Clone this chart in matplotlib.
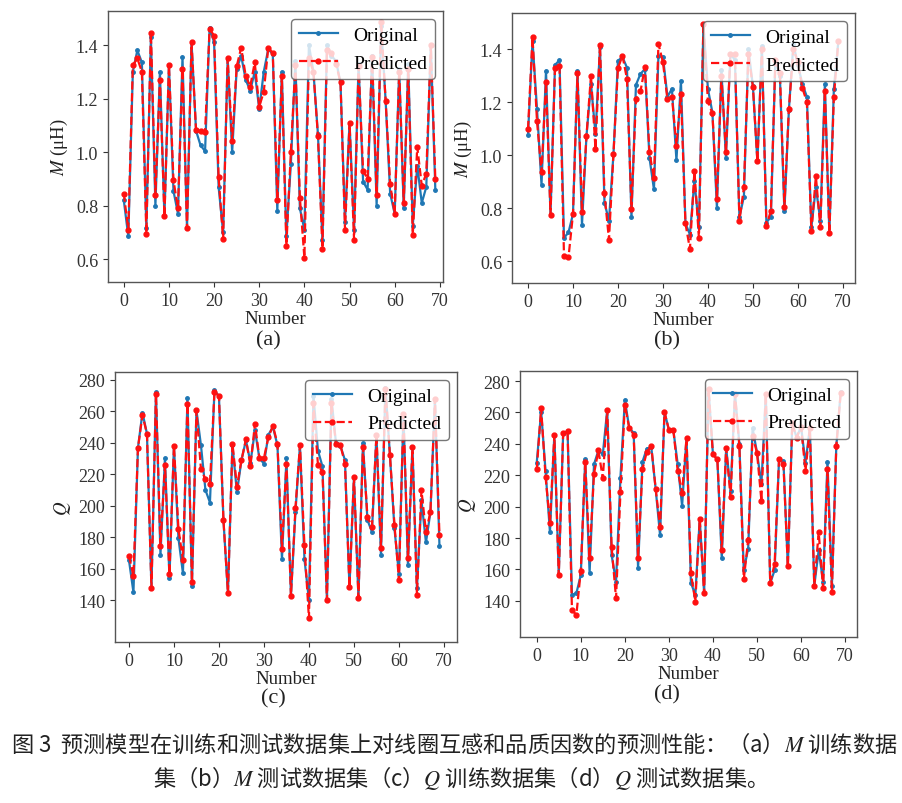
import matplotlib
matplotlib.use("Agg")
import matplotlib.pyplot as plt
import numpy as np

plt.rcParams['font.family'] = ['Liberation Serif', 'DejaVu Serif']
plt.rcParams['mathtext.fontset'] = 'stix'

# ---------------- data ----------------
m_train_orig = [0.82, 0.685, 1.30, 1.38, 1.335, 0.715, 1.43, 0.80, 1.30, 0.76,
                1.325, 0.855, 0.77, 1.356, 0.716, 1.41, 1.08, 1.025, 1.004, 1.465,
                1.41, 0.87, 0.70, 1.35, 1.00, 1.31, 1.36, 1.27, 1.23, 1.30,
                1.16, 1.30, 1.385, 1.365, 0.78, 1.30, 0.685, 0.955, 1.34, 0.79,
                0.71, 1.40, 1.30, 1.067, 0.67, 1.40, 1.36, 1.34, 1.26, 0.74,
                1.11, 0.71, 1.33, 0.89, 0.86, 1.36, 0.80, 1.47, 1.19, 0.845,
                0.77, 1.31, 0.79, 1.33, 0.725, 0.95, 0.81, 0.87, 1.40, 0.86]
m_train_pred = [0.845, 0.71, 1.325, 1.35, 1.30, 0.695, 1.445, 0.84, 1.27, 0.76,
                1.325, 0.895, 0.79, 1.31, 0.716, 1.41, 1.082, 1.08, 1.075, 1.46,
                1.435, 0.907, 0.675, 1.35, 1.04, 1.32, 1.39, 1.285, 1.245, 1.335,
                1.17, 1.225, 1.39, 1.37, 0.82, 1.285, 0.65, 1.00, 1.325, 0.83,
                0.605, 1.35, 1.30, 1.06, 0.637, 1.38, 1.37, 1.33, 1.26, 0.71,
                1.11, 0.672, 1.32, 0.93, 0.90, 1.355, 0.84, 1.485, 1.19, 0.88,
                0.77, 1.30, 0.81, 1.31, 0.69, 1.02, 0.875, 0.92, 1.40, 0.90]

m_test_orig = [1.077, 1.43, 1.174, 0.888, 1.318, 0.775, 1.34, 1.358, 0.687, 0.708,
               0.777, 1.318, 0.737, 1.073, 1.268, 1.08, 1.406, 0.82, 0.752, 1.004,
               1.356, 1.37, 1.33, 0.765, 1.265, 1.306, 1.325, 0.99, 0.87, 1.375,
               1.37, 1.22, 1.25, 0.98, 1.28, 0.742, 0.70, 0.903, 0.727, 1.49,
               1.25, 1.16, 0.80, 1.32, 0.99, 1.38, 1.36, 0.765, 0.843, 1.40,
               1.26, 0.976, 1.41, 0.745, 0.767, 1.36, 1.30, 0.787, 1.17, 1.42,
               1.34, 1.268, 1.22, 0.727, 0.878, 0.752, 1.268, 0.705, 1.25, 1.43]
m_test_pred = [1.098, 1.444, 1.127, 0.935, 1.274, 0.775, 1.328, 1.337, 0.62, 0.614,
               0.777, 1.308, 0.784, 1.073, 1.30, 1.023, 1.416, 0.855, 0.68, 1.004,
               1.328, 1.375, 1.287, 0.796, 1.211, 1.24, 1.333, 1.01, 0.913, 1.42,
               1.35, 1.21, 1.22, 1.035, 1.23, 0.742, 0.645, 0.94, 0.687, 1.494,
               1.203, 1.157, 0.834, 1.30, 1.01, 1.38, 1.38, 0.752, 0.878, 1.38,
               1.258, 0.976, 1.40, 0.733, 0.79, 1.36, 1.31, 0.805, 1.174, 1.40,
               1.35, 1.253, 1.20, 0.712, 0.92, 0.727, 1.243, 0.705, 1.218, 1.43]

q_train_orig = [165.4, 144.9, 236.7, 259.2, 245.8, 147.4, 272.3, 168.6, 230.0, 154.2,
                238.0, 179.2, 157.0, 268.5, 149.1, 260.6, 238.4, 209.9, 202.0, 273.3,
                269.7, 190.8, 144.3, 238.4, 208.4, 228.9, 241.6, 227.4, 247.9, 230.0,
                226.8, 245.2, 250.0, 238.4, 166.0, 230.0, 142.7, 196.0, 238.4, 166.0,
                140.0, 270.0, 235.0, 225.0, 140.0, 268.0, 240.0, 238.0, 229.0, 148.4,
                218.3, 141.5, 240.0, 190.8, 183.4, 245.0, 168.6, 275.0, 232.0, 185.5,
                156.3, 258.0, 162.2, 237.3, 147.4, 203.5, 176.6, 196.0, 268.0, 174.5]
q_train_pred = [168.2, 155.3, 236.7, 257.5, 245.8, 147.4, 271.2, 174.5, 226.1, 156.3,
                238.0, 185.1, 165.4, 264.9, 151.7, 260.6, 223.2, 216.8, 214.0, 272.3,
                269.7, 190.8, 144.3, 239.5, 212.0, 228.9, 242.2, 225.3, 252.2, 230.0,
                230.4, 243.7, 250.7, 239.5, 172.4, 226.8, 142.7, 198.6, 238.4, 174.9,
                128.3, 265.0, 226.0, 221.5, 140.0, 265.0, 239.5, 238.4, 226.8, 148.4,
                218.3, 141.5, 237.3, 192.9, 186.5, 245.0, 173.2, 274.4, 232.0, 188.0,
                152.7, 258.0, 166.5, 237.3, 143.2, 209.8, 183.4, 196.0, 268.0, 181.3]

q_test_orig = [228.0, 260.6, 222.7, 183.8, 245.9, 156.4, 247.0, 248.0, 143.8, 144.9,
               156.4, 230.1, 157.9, 227.0, 235.8, 233.3, 261.7, 169.1, 152.2, 218.5,
               268.0, 250.1, 247.0, 161.0, 228.6, 237.0, 238.0, 211.2, 181.7, 260.2,
               249.0, 249.0, 227.0, 200.6, 243.8, 151.6, 143.7, 192.2, 144.9, 275.0,
               233.3, 230.1, 167.0, 237.5, 210.1, 272.0, 240.0, 159.6, 173.3, 250.0,
               234.4, 214.3, 272.0, 151.2, 159.6, 230.1, 229.0, 162.1, 253.0, 244.0,
               251.0, 228.0, 250.0, 149.5, 172.2, 152.2, 228.7, 149.5, 238.5, 273.0]
q_test_pred = [223.8, 262.7, 219.0, 189.5, 245.9, 156.4, 247.0, 248.0, 133.9, 131.2,
               159.2, 228.6, 167.6, 221.0, 235.8, 218.0, 261.7, 174.3, 141.7, 209.1,
               264.8, 250.1, 245.9, 167.6, 223.8, 235.0, 238.5, 211.2, 187.0, 260.2,
               249.0, 249.0, 222.7, 209.0, 243.8, 157.5, 139.6, 192.2, 144.9, 275.0,
               233.3, 230.1, 172.2, 237.5, 205.9, 272.0, 238.5, 153.7, 179.0, 245.0,
               234.4, 203.8, 272.0, 151.2, 163.8, 230.1, 227.0, 162.1, 253.0, 244.0,
               251.0, 222.7, 250.0, 149.5, 183.8, 148.0, 223.8, 145.9, 238.5, 272.4]

panel_labels = ['(a)', '(b)', '(c)', '(d)']
legend_labels = ['Original', 'Predicted']
x_label = 'Number'
m_label = r'$M$ (μH)'
q_label = r'$Q$'
m_ticks = [0.6, 0.8, 1.0, 1.2, 1.4]
q_ticks = [140, 160, 180, 200, 220, 240, 260, 280]
x_ticks = [0, 10, 20, 30, 40, 50, 60, 70]

caption_line1 = r'图 3  预测模型在训练和测试数据集上对线圈互感和品质因数的预测性能：（a）$M$ 训练数据'
caption_line2 = r'集（b）$M$ 测试数据集（c）$Q$ 训练数据集（d）$Q$ 测试数据集。'

# ---------------- figure ----------------
W, H = 902, 804
fig = plt.figure(figsize=(W / 100, H / 100), dpi=100)


def px_axes(left, top, right, bottom):
    return fig.add_axes([left / W, 1 - bottom / H, (right - left) / W, (bottom - top) / H])


panels = [
    dict(box=(108, 12, 443, 283), orig=m_train_orig, pred=m_train_pred, ylab=m_label,
         yt=m_ticks, ylim=(0.515, 1.527), xlim=(-3.5, 70.7), lab=panel_labels[0], lxy=(268, 341)),
    dict(box=(512, 14, 855, 284), orig=m_test_orig, pred=m_test_pred, ylab=m_label,
         yt=m_ticks, ylim=(0.517, 1.536), xlim=(-3.56, 72.7), lab=panel_labels[1], lxy=(667, 341)),
    dict(box=(115, 373, 457, 643), orig=q_train_orig, pred=q_train_pred, ylab=q_label,
         yt=q_ticks, ylim=(113.3, 285.0), xlim=(-3.1, 72.9), lab=panel_labels[2], lxy=(273, 699)),
    dict(box=(520, 372, 857, 638), orig=q_test_orig, pred=q_test_pred, ylab=q_label,
         yt=q_ticks, ylim=(117.0, 286.4), xlim=(-3.8, 72.7), lab=panel_labels[3], lxy=(667, 695)),
]

for p in panels:
    ax = px_axes(*p['box'])
    idx = np.arange(len(p['orig']))
    ax.plot(idx, p['orig'], color='#1f77b4', lw=1.6, marker='.', ms=5, label=legend_labels[0])
    ax.plot(idx, p['pred'], color='#ff1010', lw=1.6, ls='--', marker='.', ms=7, label=legend_labels[1])
    ax.set_xlim(*p['xlim'])
    ax.set_ylim(*p['ylim'])
    ax.set_xticks(x_ticks)
    ax.set_yticks(p['yt'])
    ax.tick_params(labelsize=13, colors='#333333')
    for lbl in ax.get_xticklabels() + ax.get_yticklabels():
        lbl.set_family(['Liberation Serif', 'DejaVu Serif'])
    for s in ax.spines.values():
        s.set_color('#555555')
        s.set_linewidth(1.0)
    ax.set_xlabel(x_label, fontsize=13.5, labelpad=1, color='#222222')
    ax.set_ylabel(p['ylab'], fontsize=13.5, color='#222222')
    leg = ax.legend(loc='upper right', fontsize=14, framealpha=0.8, edgecolor='#555555',
                    borderaxespad=0.4, handlelength=2.0)
    leg.get_frame().set_linewidth(1.0)
    fig.text(p['lxy'][0] / W, 1 - p['lxy'][1] / H, p['lab'], fontsize=16,
             ha='center', va='center', color='#222222')

cap_font = ['Noto Sans CJK SC', 'DejaVu Sans']
fig.text(0.504, 1 - 744 / H, caption_line1, fontsize=16, family=cap_font,
         ha='center', va='center', color='#222222')
fig.text(0.504, 1 - 778 / H, caption_line2, fontsize=16, family=cap_font,
         ha='center', va='center', color='#222222')

fig.savefig('out.png', dpi=100, facecolor='white')
